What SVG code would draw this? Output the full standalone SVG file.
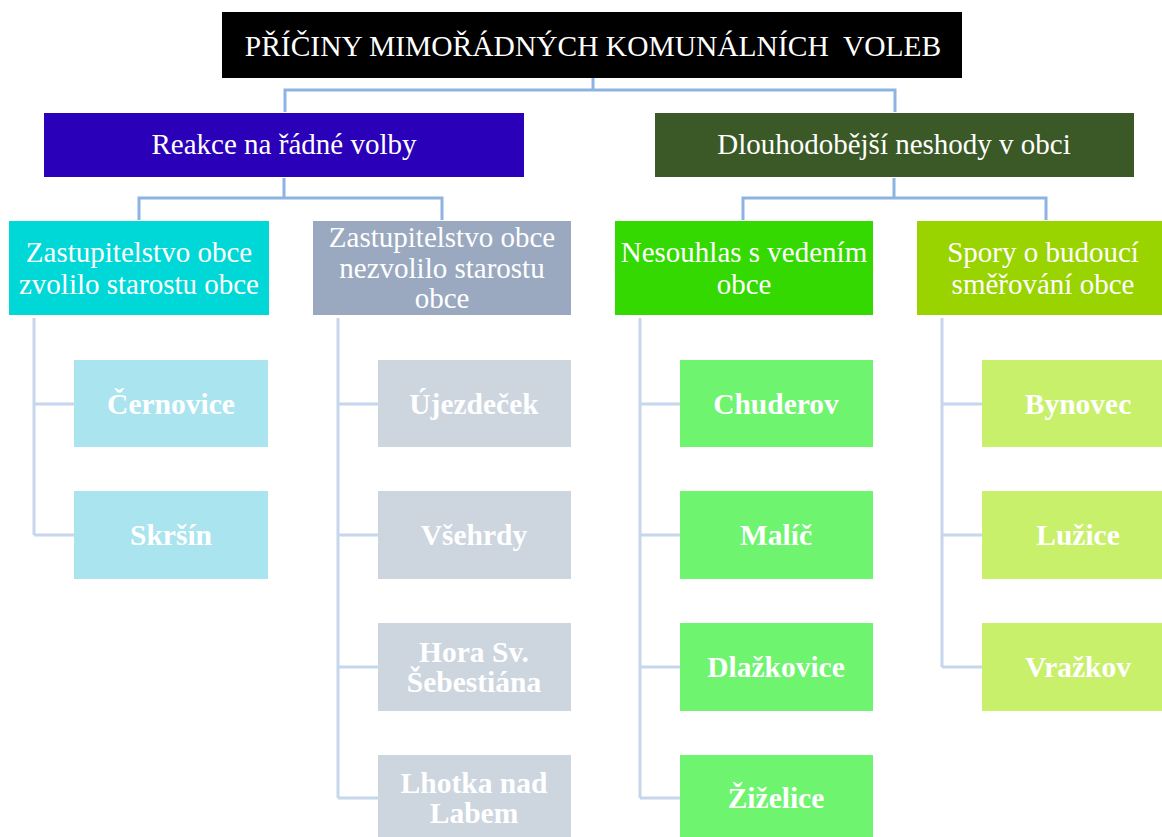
<svg xmlns="http://www.w3.org/2000/svg" width="1162" height="837" viewBox="0 0 1162 837">
<style>
text{font-family:"Liberation Serif","Times New Roman",serif;fill:#ffffff;text-anchor:middle}
.t0{font-size:29.5px}
.t1{font-size:29px}
.t2{font-size:29px}
.t3{font-size:29.5px;font-weight:bold}
.c{fill:none;stroke:#c6d6ec;stroke-width:3}
.ct{fill:none;stroke:#8db3e2;stroke-width:3}
</style>
<rect width="1162" height="837" fill="#ffffff"/>
<g id="connectors">
<path class="ct" d="M593 78V90M285 112V90H895V112"/>
<path class="ct" d="M284 178V198M139 220V198H442V220"/>
<path class="ct" d="M894 178V198M743 220V198H1046V220"/>
<path class="c" d="M34 318V535M34 404H74M34 535H74"/>
<path class="c" d="M338 318V798M338 404H378M338 535H378M338 667H378M338 798H378"/>
<path class="c" d="M640 318V798M640 404H680M640 535H680M640 667H680M640 798H680"/>
<path class="c" d="M942 318V667M942 404H982M942 535H982M942 667H982"/>
</g>
<g id="root"><rect x="222" y="12" width="740" height="66" fill="#000000"/><text class="t0" x="593" y="56" xml:space="preserve">PŘÍČINY MIMOŘÁDNÝCH KOMUNÁLNÍCH  VOLEB</text></g>
<g id="reakce"><rect x="44" y="113" width="480" height="64" fill="#2a00b8"/><text class="t1" x="284" y="154">Reakce na řádné volby</text></g>
<g id="neshody"><rect x="655" y="113" width="479" height="64" fill="#3b5926"/><text class="t1" x="894" y="154">Dlouhodobější neshody v obci</text></g>
<g id="zvolilo"><rect x="9" y="221" width="260" height="94" fill="#00d8d8"/><text class="t2" x="139" y="262">Zastupitelstvo obce</text><text class="t2" x="139" y="294">zvolilo starostu obce</text></g>
<g id="nezvolilo"><rect x="313" y="221" width="258" height="94" fill="#9aa9bf"/><text class="t2" x="442" y="247">Zastupitelstvo obce</text><text class="t2" x="442" y="278">nezvolilo starostu</text><text class="t2" x="442" y="308">obce</text></g>
<g id="nesouhlas"><rect x="615" y="221" width="258" height="94" fill="#33d900"/><text class="t2" x="744" y="262">Nesouhlas s vedením</text><text class="t2" x="744" y="294">obce</text></g>
<g id="spory"><rect x="917" y="221" width="245" height="94" fill="#99d300"/><text class="t2" x="1043" y="262">Spory o budoucí</text><text class="t2" x="1043" y="294">směřování obce</text></g>
<g id="cernovice"><rect x="74" y="360" width="194" height="87" fill="#aae5ef"/><text class="t3" x="171" y="414">Černovice</text></g>
<g id="skrsin"><rect x="74" y="491" width="194" height="88" fill="#aae5ef"/><text class="t3" x="171" y="545">Skršín</text></g>
<g id="ujezdecek"><rect x="378" y="360" width="193" height="87" fill="#cdd5df"/><text class="t3" x="474" y="414">Újezdeček</text></g>
<g id="vsehrdy"><rect x="378" y="491" width="193" height="88" fill="#cdd5df"/><text class="t3" x="474" y="545">Všehrdy</text></g>
<g id="hora"><rect x="378" y="623" width="193" height="88" fill="#cdd5df"/><text class="t3" x="474" y="662">Hora Sv.</text><text class="t3" x="474" y="692">Šebestiána</text></g>
<g id="lhotka"><rect x="378" y="755" width="193" height="82" fill="#cdd5df"/><text class="t3" x="474" y="793">Lhotka nad</text><text class="t3" x="474" y="823">Labem</text></g>
<g id="chuderov"><rect x="680" y="360" width="193" height="87" fill="#6ef46e"/><text class="t3" x="776" y="414">Chuderov</text></g>
<g id="malic"><rect x="680" y="491" width="193" height="88" fill="#6ef46e"/><text class="t3" x="776" y="545">Malíč</text></g>
<g id="dlazkovice"><rect x="680" y="623" width="193" height="88" fill="#6ef46e"/><text class="t3" x="776" y="677">Dlažkovice</text></g>
<g id="zizelice"><rect x="680" y="755" width="193" height="82" fill="#6ef46e"/><text class="t3" x="776" y="808">Žiželice</text></g>
<g id="bynovec"><rect x="982" y="360" width="180" height="87" fill="#c8f06b"/><text class="t3" x="1078" y="414">Bynovec</text></g>
<g id="luzice"><rect x="982" y="491" width="180" height="88" fill="#c8f06b"/><text class="t3" x="1078" y="545">Lužice</text></g>
<g id="vrazkov"><rect x="982" y="623" width="180" height="88" fill="#c8f06b"/><text class="t3" x="1078" y="677">Vražkov</text></g>
</svg>
